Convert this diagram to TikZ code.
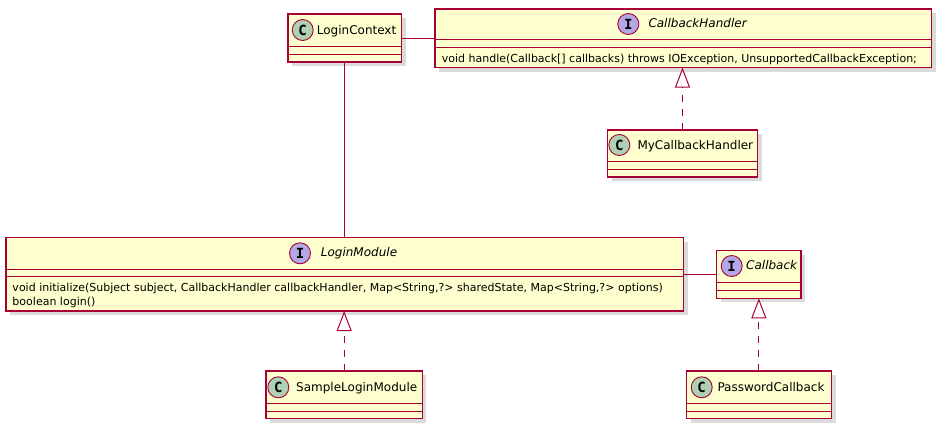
\documentclass[tikz,border=0pt]{standalone}
\usepackage{fontspec}
\setmainfont{DejaVu Sans}
\newfontfamily\spotfont{DejaVu Sans Mono}
\usetikzlibrary{arrows.meta,shadows}
\definecolor{umlborder}{RGB}{168,0,54}
\definecolor{umlfill}{RGB}{254,254,206}
\definecolor{spotC}{RGB}{173,209,178}
\definecolor{spotI}{RGB}{180,167,229}
\tikzset{
  classbox/.style={draw=umlborder, fill=umlfill, line width=1.1pt, inner sep=0pt, outer sep=0pt,
    rectangle, drop shadow={shadow xshift=4pt, shadow yshift=-4pt, fill=black!35, opacity=0.4}},
  sepline/.style={draw=umlborder, line width=1pt},
  spot/.style={circle, draw=umlborder, line width=0.9pt, minimum size=21pt, inner sep=0pt,
    font=\spotfont\bfseries\fontsize{14}{14}\selectfont},
  titletext/.style={anchor=base west, inner sep=0pt, font=\fontsize{12}{14}\selectfont},
  membertext/.style={anchor=base west, inner sep=0pt, font=\fontsize{11}{13}\selectfont},
  assoc/.style={draw=umlborder, line width=1pt},
  realize/.style={draw=umlborder, line width=1pt, dash pattern=on 7pt off 7pt,
    -{Triangle[open, length=20pt, width=15pt, line width=1pt]}},
}
% name, x1, y1, x2, y2, sep1, sep2
\newcommand\umlbox[7]{%
  \node[classbox, minimum width={#4-#2}, minimum height={#5-#3}] (#1) at ({(#2+#4)/2},{(#3+#5)/2}) {};
  \draw[sepline] (#2,#6) -- (#4,#6);
  \draw[sepline] (#2,#7) -- (#4,#7);
}
\begin{document}
\begin{tikzpicture}[x=1pt,y=-1pt]
\useasboundingbox[fill=white] (0,0) rectangle (941,429);

% LoginContext
\umlbox{lc}{288}{14}{401.5}{62}{46}{54}
\node[spot, fill=spotC] (lcspot) at (302.7,30) {C};
\node[titletext] (lctitle) at (316.7,34.3) {LoginContext};

% CallbackHandler
\umlbox{cbh}{435}{9}{931.5}{67.5}{39.5}{47.5}
\node[spot, fill=spotI] (cbhspot) at (628.3,24) {I};
\node[titletext] (cbhtitle) at (648.3,27.7) {\itshape CallbackHandler};
\node[membertext] (cbhm) at (441.7,62) {void handle(Callback[] callbacks) throws IOException, UnsupportedCallbackException;};

% MyCallbackHandler
\umlbox{mch}{607.5}{130}{757.5}{177}{161.5}{169.5}
\node[spot, fill=spotC] (mchspot) at (619.3,145) {C};
\node[titletext] (mchtitle) at (637.3,149.3) {MyCallbackHandler};

% LoginModule
\umlbox{lm}{6}{237.5}{683.5}{311}{269}{276.5}
\node[spot, fill=spotI] (lmspot) at (300,253.3) {I};
\node[titletext] (lmtitle) at (320.7,256.7) {\itshape LoginModule};
\node[membertext] (lmm1) at (12.3,291.7) {void initialize(Subject subject, CallbackHandler callbackHandler, Map<String,?> sharedState, Map<String,?> options)};
\node[membertext] (lmm2) at (12.3,305) {boolean login()};

% Callback
\umlbox{cb}{716.7}{250.7}{801}{298.3}{282.7}{290}
\node[spot, fill=spotI] (cbspot) at (731.7,266) {I};
\node[titletext] (cbtitle) at (746,269.3) {\itshape Callback};

% SampleLoginModule
\umlbox{slm}{266}{371}{422.3}{418.7}{403.3}{411}
\node[spot, fill=spotC] (slmspot) at (278.3,387.3) {C};
\node[titletext] (slmtitle) at (296,391.7) {SampleLoginModule};

% PasswordCallback
\umlbox{pc}{686.7}{371}{831.7}{418.7}{403.3}{411}
\node[spot, fill=spotC] (pcspot) at (701.7,387.3) {C};
\node[titletext] (pctitle) at (717.3,391.7) {PasswordCallback};

% connectors
\draw[assoc] (lc.east) -- (lc.east -| cbh.west);
\draw[assoc] (lc.south) -- (lc.south |- lm.north);
\draw[assoc] (lm.east) -- (lm.east -| cb.west);
\draw[realize] (mch.north) -- (mch.north |- cbh.south);
\draw[realize] (slm.north) -- (slm.north |- lm.south);
\draw[realize] (pc.north -| cb.south) -- (cb.south);
\end{tikzpicture}
\end{document}
